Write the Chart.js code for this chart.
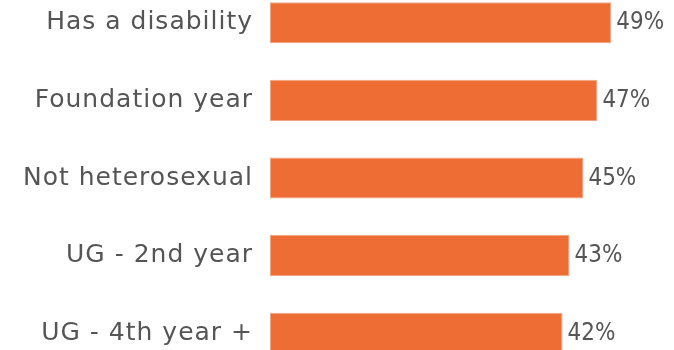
<!DOCTYPE html>
<html>
<head>
<meta charset="utf-8">
<script src="https://cdn.jsdelivr.net/npm/chart.js@4/dist/chart.umd.min.js"></script>
<style>
    html, body { margin: 0; padding: 0; background: #fff; overflow: hidden; }
    body { width: 674px; height: 350px; position: relative; }
    #chart { position: absolute; left: 0; top: -16px; }
</style>
</head>
<body>
<canvas id="chart" width="674" height="388"></canvas>
<script>
// Share of respondents by group
const groups = ['Has a disability', 'Foundation year', 'Not heterosexual', 'UG - 2nd year', 'UG - 4th year +'];
const shares = [49, 47, 45, 43, 42];

const FONT = '"DejaVu Sans", sans-serif';
const TEXT = '#555555';

// Slightly looser tracking for the category labels
const tracking = {
    id: 'tracking',
    beforeDraw(chart) {
        chart.ctx.letterSpacing = '1px';
    }
};

// Draws the percentage just past the end of each bar, a little narrowed
const valueLabels = {
    id: 'valueLabels',
    afterDatasetsDraw(chart) {
        const ctx = chart.ctx;
        const meta = chart.getDatasetMeta(0);
        meta.data.forEach((bar, i) => {
            ctx.save();
            ctx.letterSpacing = '0px';
            ctx.font = '25px ' + FONT;
            ctx.fillStyle = TEXT;
            ctx.textAlign = 'left';
            ctx.textBaseline = 'middle';
            ctx.translate(bar.x + 5, bar.y);
            ctx.scale(0.86, 1);
            ctx.fillText(shares[i] + '%', 0, 0);
            ctx.restore();
        });
    }
};

new Chart(document.getElementById('chart'), {
    type: 'bar',
    data: {
        labels: groups,
        datasets: [{
            data: shares,
            backgroundColor: '#ED6D35',
            borderColor: '#F0A585',
            borderWidth: 1,
            borderSkipped: false,
            categoryPercentage: 1,
            barPercentage: 0.53
        }]
    },
    options: {
        indexAxis: 'y',
        responsive: false,
        animation: false,
        layout: { padding: 0 },
        plugins: {
            legend: { display: false },
            title: { display: false },
            tooltip: { enabled: false }
        },
        scales: {
            x: {
                display: false,
                min: 0,
                max: 58
            },
            y: {
                grid: { display: false, drawTicks: false },
                border: { display: false },
                afterFit(scale) {
                    scale.width = 270;
                    scale.paddingTop = 0;
                    scale.paddingBottom = 0;
                },
                ticks: {
                    color: TEXT,
                    padding: 17,
                    font: { family: FONT, size: 25 }
                }
            }
        }
    },
    plugins: [tracking, valueLabels]
});
</script>
</body>
</html>
